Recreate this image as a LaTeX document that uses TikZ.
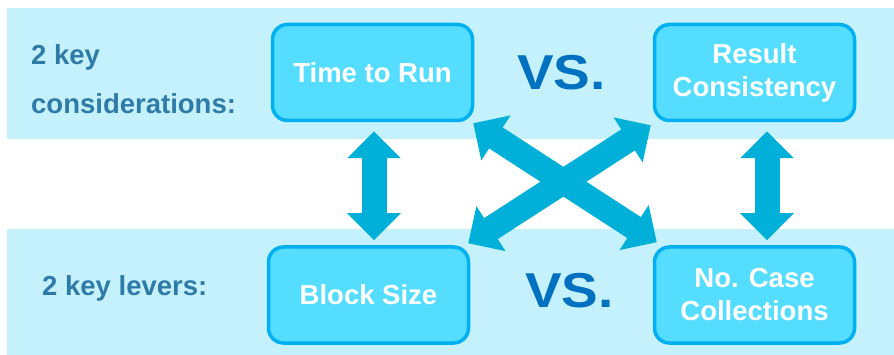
\documentclass[tikz,border=0pt]{standalone}
\usepackage{fontspec}
\setmainfont{Liberation Sans}
\usetikzlibrary{arrows.meta}
\definecolor{bandblue}{HTML}{C5F1FD}
\definecolor{boxfill}{HTML}{55DDFF}
\definecolor{boxline}{HTML}{00B0F0}
\definecolor{arrowblue}{HTML}{00B0D8}
\definecolor{labelblue}{HTML}{2F7BA8}
\definecolor{vsblue}{HTML}{0070C0}
\tikzset{
  band/.style={fill=bandblue, draw=none},
  keybox/.style={draw=boxline, fill=boxfill, line width=3.5pt, rounded corners=15pt,
    minimum width=200pt, minimum height=96pt, align=center, text=white,
    font=\fontsize{27.5}{33}\selectfont\bfseries, inner sep=0pt},
  sidelabel/.style={anchor=base west, text=labelblue, inner sep=0pt,
    font=\fontsize{27.5}{33}\selectfont\bfseries},
  vslabel/.style={anchor=base west, text=vsblue, inner sep=0pt,
    font=\fontsize{49}{49}\selectfont\bfseries},
  bigarrow/.style={draw=arrowblue, line width=25pt,
    {Triangle[width=52pt,length=27pt]}-{Triangle[width=52pt,length=27pt]}},
}
\begin{document}
\begin{tikzpicture}[x=1pt,y=-1pt]
\useasboundingbox (0,0) rectangle (894,355);
% background bands
\fill[band] (7,8) rectangle (894,139);
\fill[band] (7,229) rectangle (894,355);

% boxes
\node[keybox] (tr)  at (372.5,72.5) {Time to Run};
\node[keybox] (rc)  at (754.5,72.5) {Result\\Consistency};
\node[keybox] (bs)  at (368.5,295)  {Block Size};
\node[keybox] (ncc) at (754.5,295)  {No. Case\\Collections};

% side labels
\node[sidelabel] (lk1) at (31,65)  {2 key};
\node[sidelabel] (lk2) at (31,114) {considerations:};
\node[sidelabel] (lv)  at (42,295) {2 key levers:};

% vs labels
\node[vslabel] (vs1) at (517,90)  {\scalebox{1.12}[1]{VS.}};
\node[vslabel] (vs2) at (525,308) {\scalebox{1.12}[1]{VS.}};

% two-way arrows
\draw[bigarrow] ([xshift=1.5pt,yshift=-9pt]tr.south) -- ([xshift=5.5pt,yshift=5pt]bs.north);
\draw[bigarrow] ([xshift=12.5pt,yshift=-9pt]rc.south) -- ([xshift=12.5pt,yshift=5pt]ncc.north);
\draw[bigarrow] ([xshift=-1pt,yshift=-1pt]tr.south east) -- ([xshift=4pt,yshift=3pt]ncc.north west);
\draw[bigarrow] ([xshift=-2pt,yshift=-3pt]rc.south west) -- ([xshift=-2pt,yshift=2pt]bs.north east);
\end{tikzpicture}
\end{document}
